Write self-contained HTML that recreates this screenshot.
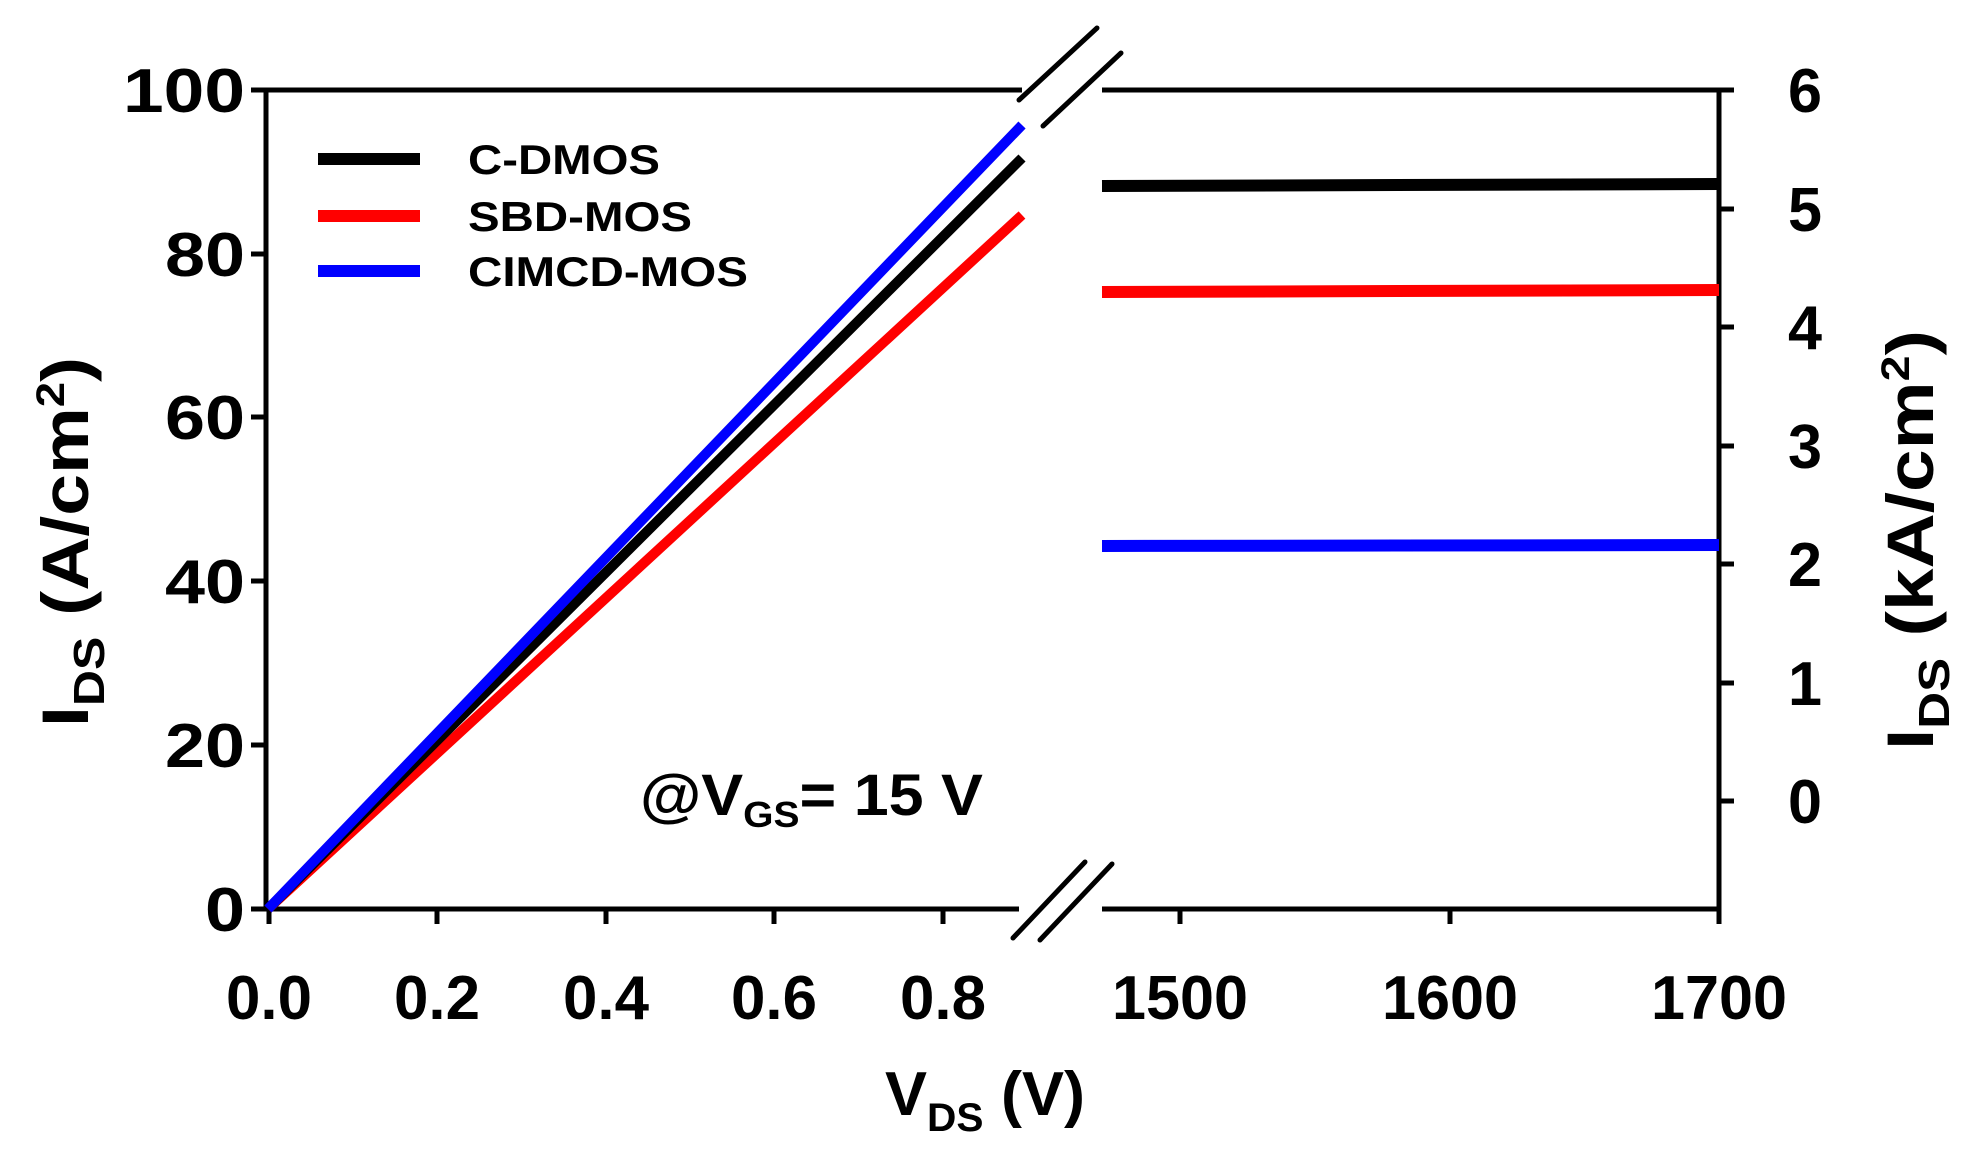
<!DOCTYPE html>
<html><head><style>body{margin:0;background:#fff}svg{display:block}</style></head>
<body>
<svg width="1968" height="1170" viewBox="0 0 1968 1170" xmlns="http://www.w3.org/2000/svg" font-family="Liberation Sans, Arial, sans-serif" font-weight="bold">
<g stroke="#000" stroke-width="5" fill="none">
<line x1="266" y1="90" x2="1022" y2="90"/>
<line x1="266" y1="909" x2="1019" y2="909"/>
<line x1="266" y1="88" x2="266" y2="911"/>
<line x1="1102" y1="90" x2="1719" y2="90"/>
<line x1="1102" y1="909" x2="1719" y2="909"/>
<line x1="1719" y1="88" x2="1719" y2="911"/>
<line x1="251" y1="90" x2="266" y2="90"/>
<line x1="251" y1="254" x2="266" y2="254"/>
<line x1="251" y1="417" x2="266" y2="417"/>
<line x1="251" y1="581" x2="266" y2="581"/>
<line x1="251" y1="745" x2="266" y2="745"/>
<line x1="251" y1="909" x2="266" y2="909"/>
<line x1="269" y1="909" x2="269" y2="924"/>
<line x1="437" y1="909" x2="437" y2="924"/>
<line x1="606" y1="909" x2="606" y2="924"/>
<line x1="774" y1="909" x2="774" y2="924"/>
<line x1="943" y1="909" x2="943" y2="924"/>
<line x1="1180" y1="909" x2="1180" y2="924"/>
<line x1="1450" y1="909" x2="1450" y2="924"/>
<line x1="1719" y1="909" x2="1719" y2="924"/>
<line x1="1719" y1="90" x2="1734" y2="90"/>
<line x1="1719" y1="209" x2="1734" y2="209"/>
<line x1="1719" y1="327" x2="1734" y2="327"/>
<line x1="1719" y1="446" x2="1734" y2="446"/>
<line x1="1719" y1="564" x2="1734" y2="564"/>
<line x1="1719" y1="683" x2="1734" y2="683"/>
<line x1="1719" y1="801" x2="1734" y2="801"/>
<line x1="1019" y1="100" x2="1097" y2="28" stroke-linecap="round"/>
<line x1="1043" y1="126" x2="1121" y2="53" stroke-linecap="round"/>
<line x1="1013" y1="938" x2="1085" y2="862" stroke-linecap="round"/>
<line x1="1040" y1="940" x2="1112" y2="864" stroke-linecap="round"/>
</g>
<g stroke-width="10" fill="none">
<line x1="268" y1="909" x2="1022" y2="215" stroke="#ff0000"/>
<line x1="268" y1="909" x2="1022" y2="158" stroke="#000"/>
<line x1="268" y1="909" x2="1022" y2="125" stroke="#0000ff"/>
<line x1="1102" y1="186" x2="1719" y2="184" stroke="#000" stroke-width="12"/>
<line x1="1102" y1="292" x2="1719" y2="290" stroke="#ff0000" stroke-width="12"/>
<line x1="1102" y1="546" x2="1719" y2="545" stroke="#0000ff" stroke-width="12"/>
<line x1="318" y1="159" x2="420" y2="159" stroke="#000" stroke-width="12"/>
<line x1="318" y1="216" x2="420" y2="216" stroke="#ff0000" stroke-width="12"/>
<line x1="318" y1="271" x2="420" y2="271" stroke="#0000ff" stroke-width="12"/>
</g>
<g font-size="42" fill="#000">
<text x="468" y="174" textLength="192" lengthAdjust="spacingAndGlyphs">C-DMOS</text>
<text x="468" y="231" textLength="224" lengthAdjust="spacingAndGlyphs">SBD-MOS</text>
<text x="468" y="286" textLength="280" lengthAdjust="spacingAndGlyphs">CIMCD-MOS</text>
</g>
<g font-size="62" fill="#000">
<text x="245" y="112" text-anchor="end" textLength="122" lengthAdjust="spacingAndGlyphs">100</text>
<text x="245" y="276" text-anchor="end" textLength="80" lengthAdjust="spacingAndGlyphs">80</text>
<text x="245" y="439" text-anchor="end" textLength="80" lengthAdjust="spacingAndGlyphs">60</text>
<text x="245" y="603" text-anchor="end" textLength="80" lengthAdjust="spacingAndGlyphs">40</text>
<text x="245" y="767" text-anchor="end" textLength="80" lengthAdjust="spacingAndGlyphs">20</text>
<text x="245" y="931" text-anchor="end" textLength="40" lengthAdjust="spacingAndGlyphs">0</text>
<g text-anchor="middle">
<text x="269" y="1019" textLength="86" lengthAdjust="spacingAndGlyphs">0.0</text>
<text x="437" y="1019" textLength="86" lengthAdjust="spacingAndGlyphs">0.2</text>
<text x="606" y="1019" textLength="86" lengthAdjust="spacingAndGlyphs">0.4</text>
<text x="774" y="1019" textLength="86" lengthAdjust="spacingAndGlyphs">0.6</text>
<text x="943" y="1019" textLength="86" lengthAdjust="spacingAndGlyphs">0.8</text>
<text x="1180" y="1019" textLength="136" lengthAdjust="spacingAndGlyphs">1500</text>
<text x="1450" y="1019" textLength="136" lengthAdjust="spacingAndGlyphs">1600</text>
<text x="1719" y="1019" textLength="136" lengthAdjust="spacingAndGlyphs">1700</text>
</g>
<g text-anchor="middle">
<text x="1805" y="112" textLength="34" lengthAdjust="spacingAndGlyphs">6</text>
<text x="1805" y="231" textLength="34" lengthAdjust="spacingAndGlyphs">5</text>
<text x="1805" y="349" textLength="34" lengthAdjust="spacingAndGlyphs">4</text>
<text x="1805" y="468" textLength="34" lengthAdjust="spacingAndGlyphs">3</text>
<text x="1805" y="586" textLength="34" lengthAdjust="spacingAndGlyphs">2</text>
<text x="1805" y="705" textLength="34" lengthAdjust="spacingAndGlyphs">1</text>
<text x="1805" y="823" textLength="34" lengthAdjust="spacingAndGlyphs">0</text>
</g>
</g>
<text x="640" y="815" font-size="58" textLength="343" lengthAdjust="spacingAndGlyphs">@V<tspan font-size="36" dy="12">GS</tspan><tspan dy="-12">= 15 V</tspan></text>
<text x="985" y="1115" font-size="62" text-anchor="middle" textLength="200" lengthAdjust="spacingAndGlyphs">V<tspan font-size="40" dy="16">DS</tspan><tspan dy="-16"> (V)</tspan></text>
<text transform="translate(88,542) rotate(-90)" font-size="66" text-anchor="middle" textLength="370" lengthAdjust="spacingAndGlyphs">I<tspan font-size="44" dy="16">DS</tspan><tspan dy="-16"> (A/cm</tspan><tspan font-size="40" dy="-24">2</tspan><tspan dy="24">)</tspan></text>
<text transform="translate(1933,540) rotate(-90)" font-size="66" text-anchor="middle" textLength="420" lengthAdjust="spacingAndGlyphs">I<tspan font-size="44" dy="16">DS</tspan><tspan dy="-16"> (kA/cm</tspan><tspan font-size="40" dy="-24">2</tspan><tspan dy="24">)</tspan></text>
</svg>
</body></html>
